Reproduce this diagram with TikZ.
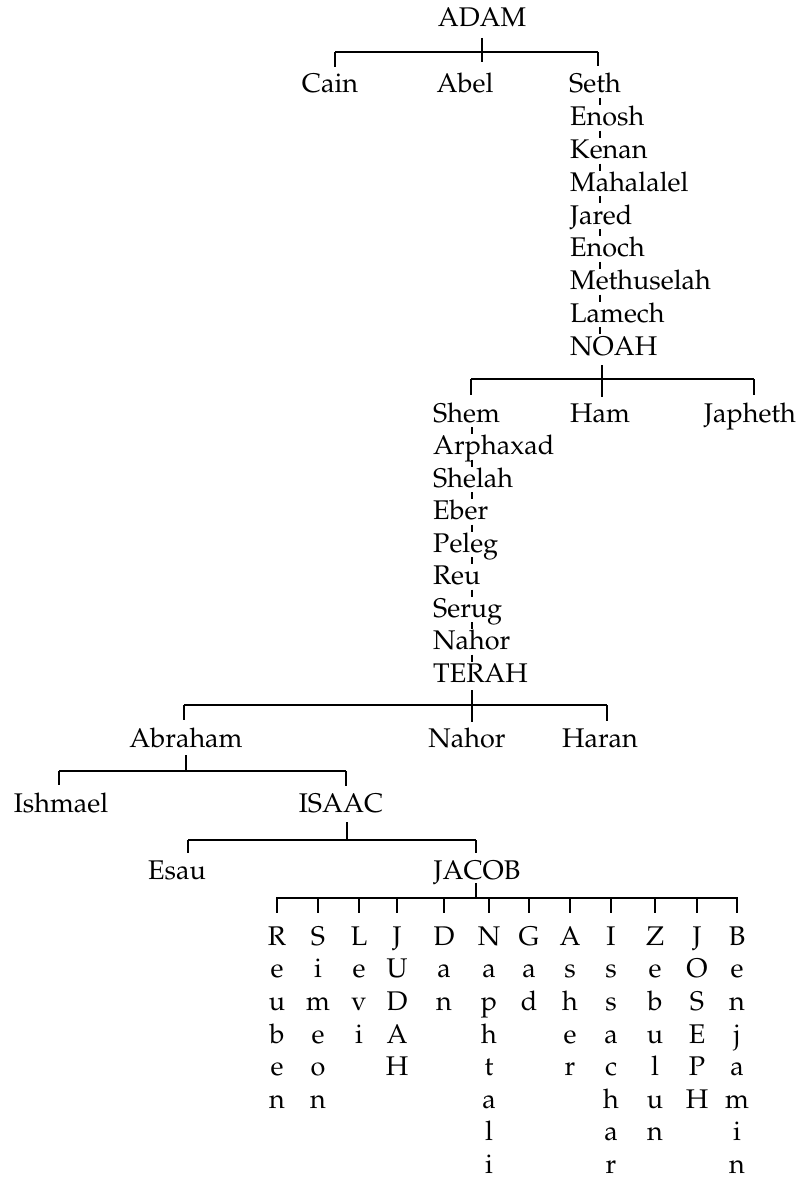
\documentclass[tikz,border=0pt]{standalone}
\usepackage[T1]{fontenc}
\usepackage{mathpazo}
\usepackage{pdfrender}
\begin{document}
\begin{tikzpicture}[x=1pt,y=1pt,
  heavy/.style={execute at begin node={\pdfrender{TextRenderingMode=FillStroke,LineWidth=0.45pt}}},
  nm/.style={inner sep=0pt, anchor=base, heavy, font=\fontsize{27}{32.6}\selectfont},
  chain/.style={nm, anchor=base west},
  son/.style={inner sep=0pt, anchor=north, align=center, heavy, font=\fontsize{27}{32.6}\selectfont},
  ln/.style={line width=2.2pt},
  dl/.style={line width=1.3pt},
  tick/.style={ln, shorten >=7pt}]
\useasboundingbox (0,0) rectangle (801,-1180);
\fill[white] (0,0) rectangle (801,-1180);

% ---------- ADAM ----------
\node[nm] (adam) at (482,-27) {ADAM};
\node[nm] (cain) at (330,-93) {Cain};
\node[nm] (abel) at (465,-93) {Abel};
\node[chain] (seth) at (569,-93) {Seth};
\node[chain] (enosh) at (570,-125.75) {Enosh};
\node[chain] (kenan) at (570,-158.5) {Kenan};
\node[chain] (mahalalel) at (570,-191.25) {Mahalalel};
\node[chain] (jared) at (570,-224) {Jared};
\node[chain] (enoch) at (570,-256.75) {Enoch};
\node[chain] (methuselah) at (570,-289.5) {Methuselah};
\node[chain] (lamech) at (570,-322.25) {Lamech};
\node[chain] (noah) at (570,-355) {NOAH};

\coordinate (adamL) at (335,-52);
\coordinate (adamR) at (598,-52);
\draw[ln] ([yshift=-11pt]adam.base) -- ([yshift=-35pt]adam.base);
\draw[ln] (adamL) -- (adamR);
\draw[tick] (adamL) -- (adamL |- cain.north);
\draw[tick] (adamR) -- (adamR |- seth.north);

\coordinate (sethline) at (600,0);
\foreach \a in {seth,enosh,kenan,mahalalel,jared,enoch,methuselah,lamech}
  \draw[dl] (\a.base -| sethline) ++(0,-5) -- ++(0,-7);

% ---------- NOAH ----------
\node[chain] (shem) at (433,-422) {Shem};
\node[nm] (ham) at (600,-422) {Ham};
\node[nm] (japheth) at (750,-422) {Japheth};
\node[chain] (arphaxad) at (433,-454.5) {Arphaxad};
\node[chain] (shelah) at (433,-487) {Shelah};
\node[chain] (eber) at (433,-519.5) {Eber};
\node[chain] (peleg) at (433,-552) {Peleg};
\node[chain] (reu) at (433,-584.5) {Reu};
\node[chain] (serug) at (433,-617) {Serug};
\node[chain] (nahorA) at (433,-649.5) {Nahor};
\node[chain] (terah) at (433,-682) {TERAH};

\coordinate (noahL) at (471,-379);
\coordinate (noahR) at (754,-379);
\draw[ln] (noah.base -| 602,0) ++(0,-10) -- (602,-397);
\draw[ln] (noahL) -- (noahR);
\draw[tick] (noahL) -- (noahL |- shem.north);
\draw[tick] (noahR) -- (noahR |- japheth.north);

\coordinate (shemline) at (472,0);
\foreach \a in {shem,arphaxad,shelah,eber,peleg,reu,serug,nahorA}
  \draw[dl] (\a.base -| shemline) ++(0,-5) -- ++(0,-7);

% ---------- TERAH ----------
\node[nm] (abraham) at (186,-747) {Abraham};
\node[nm] (nahorB) at (467,-747) {Nahor};
\node[nm] (haran) at (600,-747) {Haran};
\coordinate (terahL) at (184,-705);
\coordinate (terahR) at (607,-705);
\draw[ln] (terah.base -| shemline) ++(0,-8) -- (472,-722);
\draw[ln] (terahL) -- (terahR);
\draw[tick] (terahL) -- (terahL |- abraham.north);
\draw[tick] (terahR) -- (terahR |- haran.north);

% ---------- Abraham ----------
\node[nm] (ishmael) at (61,-812) {Ishmael};
\node[nm] (isaac) at (341,-812) {ISAAC};
\coordinate (abrL) at (59,-771);
\coordinate (abrR) at (346,-771);
\draw[ln] ([yshift=-8pt]abraham.base) -- (abraham.base |- abrL);
\draw[ln] (abrL) -- (abrR);
\draw[tick] (abrL) -- (abrL |- ishmael.north);
\draw[tick] (abrR) -- (abrR |- isaac.north);

% ---------- ISAAC ----------
\node[nm] (esau) at (177,-879) {Esau};
\node[nm] (jacob) at (477,-879) {JACOB};
\coordinate (isaL) at (188,-840);
\coordinate (isaR) at (476,-840);
\draw[ln] (isaac.base -| 347,0) ++(0,-10) -- (347,-840);
\draw[ln] (isaL) -- (isaR);
\draw[tick] (isaL) -- (isaL |- esau.north);
\draw[tick] (isaR) -- (isaR |- jacob.north);

% ---------- JACOB ----------
\draw[ln] (jacob.base -| 476,0) ++(0,-4) -- (476,-898);
\coordinate (jacL) at (276,-898);
\coordinate (jacR) at (738,-898);
\draw[ln] (jacL) -- (jacR);
\foreach \n/\x/\t in {
  reuben/277/{R\\e\\u\\b\\e\\n},
  simeon/318/{S\\i\\m\\e\\o\\n},
  levi/359/{L\\e\\v\\i},
  judah/397/{J\\U\\D\\A\\H},
  dan/444/{D\\a\\n},
  naphtali/489/{N\\a\\p\\h\\t\\a\\l\\i},
  gad/529/{G\\a\\d},
  asher/570/{A\\s\\h\\e\\r},
  issachar/611/{I\\s\\s\\a\\c\\h\\a\\r},
  zebulun/655/{Z\\e\\b\\u\\l\\u\\n},
  joseph/697/{J\\O\\S\\E\\P\\H},
  benjamin/737/{B\\e\\n\\j\\a\\m\\i\\n}}
{
  \node[son] (\n) at (\x,-926.3) {\t};
  \draw[ln, shorten >=13pt] (\x,-898) -- (\n.north);
}
\end{tikzpicture}
\end{document}
